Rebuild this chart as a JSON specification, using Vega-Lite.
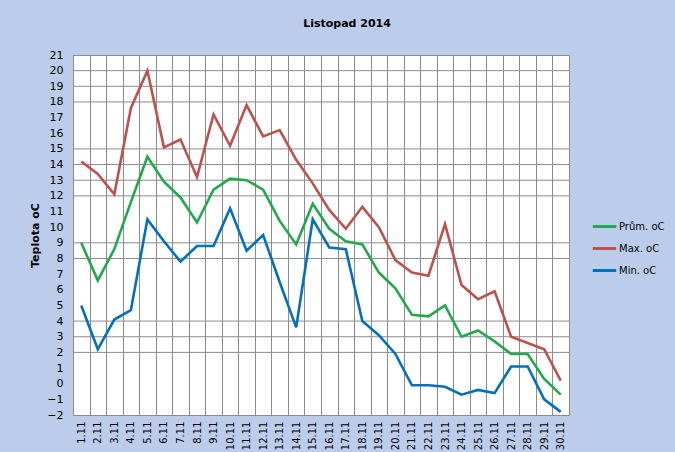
{
  "$schema": "https://vega.github.io/schema/vega-lite/v6.json",
  "width": 496,
  "height": 360,
  "autosize": {"type": "none"},
  "padding": {"left": 73, "top": 55, "right": 106, "bottom": 37},
  "background": "#bccdec",
  "title": {"text": "Listopad 2014", "font": "DejaVu Sans", "fontSize": 11, "fontWeight": "bold", "color": "#000000", "anchor": "middle", "offset": 20, "dx": 26},
  "datasets": {
    "grid": [{"y": 20}, {"y": 19}, {"y": 18}, {"y": 15}, {"y": 14}, {"y": 13}, {"y": 12}, {"y": 9}, {"y": 8}, {"y": 4}, {"y": 3}, {"y": 2}],
    "temps": [
      {"den": "1.11", "serie": "Prům. oC", "t": 9.0}, {"den": "1.11", "serie": "Max. oC", "t": 14.2}, {"den": "1.11", "serie": "Min. oC", "t": 5.0},
      {"den": "2.11", "serie": "Prům. oC", "t": 6.6}, {"den": "2.11", "serie": "Max. oC", "t": 13.4}, {"den": "2.11", "serie": "Min. oC", "t": 2.2},
      {"den": "3.11", "serie": "Prům. oC", "t": 8.6}, {"den": "3.11", "serie": "Max. oC", "t": 12.1}, {"den": "3.11", "serie": "Min. oC", "t": 4.1},
      {"den": "4.11", "serie": "Prům. oC", "t": 11.6}, {"den": "4.11", "serie": "Max. oC", "t": 17.6}, {"den": "4.11", "serie": "Min. oC", "t": 4.7},
      {"den": "5.11", "serie": "Prům. oC", "t": 14.5}, {"den": "5.11", "serie": "Max. oC", "t": 20.0}, {"den": "5.11", "serie": "Min. oC", "t": 10.5},
      {"den": "6.11", "serie": "Prům. oC", "t": 12.9}, {"den": "6.11", "serie": "Max. oC", "t": 15.1}, {"den": "6.11", "serie": "Min. oC", "t": 9.1},
      {"den": "7.11", "serie": "Prům. oC", "t": 11.9}, {"den": "7.11", "serie": "Max. oC", "t": 15.6}, {"den": "7.11", "serie": "Min. oC", "t": 7.8},
      {"den": "8.11", "serie": "Prům. oC", "t": 10.3}, {"den": "8.11", "serie": "Max. oC", "t": 13.2}, {"den": "8.11", "serie": "Min. oC", "t": 8.8},
      {"den": "9.11", "serie": "Prům. oC", "t": 12.4}, {"den": "9.11", "serie": "Max. oC", "t": 17.2}, {"den": "9.11", "serie": "Min. oC", "t": 8.8},
      {"den": "10.11", "serie": "Prům. oC", "t": 13.1}, {"den": "10.11", "serie": "Max. oC", "t": 15.2}, {"den": "10.11", "serie": "Min. oC", "t": 11.2},
      {"den": "11.11", "serie": "Prům. oC", "t": 13.0}, {"den": "11.11", "serie": "Max. oC", "t": 17.8}, {"den": "11.11", "serie": "Min. oC", "t": 8.5},
      {"den": "12.11", "serie": "Prům. oC", "t": 12.4}, {"den": "12.11", "serie": "Max. oC", "t": 15.8}, {"den": "12.11", "serie": "Min. oC", "t": 9.5},
      {"den": "13.11", "serie": "Prům. oC", "t": 10.4}, {"den": "13.11", "serie": "Max. oC", "t": 16.2}, {"den": "13.11", "serie": "Min. oC", "t": 6.5},
      {"den": "14.11", "serie": "Prům. oC", "t": 8.9}, {"den": "14.11", "serie": "Max. oC", "t": 14.3}, {"den": "14.11", "serie": "Min. oC", "t": 3.6},
      {"den": "15.11", "serie": "Prům. oC", "t": 11.5}, {"den": "15.11", "serie": "Max. oC", "t": 12.8}, {"den": "15.11", "serie": "Min. oC", "t": 10.5},
      {"den": "16.11", "serie": "Prům. oC", "t": 9.9}, {"den": "16.11", "serie": "Max. oC", "t": 11.1}, {"den": "16.11", "serie": "Min. oC", "t": 8.7},
      {"den": "17.11", "serie": "Prům. oC", "t": 9.1}, {"den": "17.11", "serie": "Max. oC", "t": 9.9}, {"den": "17.11", "serie": "Min. oC", "t": 8.6},
      {"den": "18.11", "serie": "Prům. oC", "t": 8.9}, {"den": "18.11", "serie": "Max. oC", "t": 11.3}, {"den": "18.11", "serie": "Min. oC", "t": 4.0},
      {"den": "19.11", "serie": "Prům. oC", "t": 7.1}, {"den": "19.11", "serie": "Max. oC", "t": 10.0}, {"den": "19.11", "serie": "Min. oC", "t": 3.1},
      {"den": "20.11", "serie": "Prům. oC", "t": 6.1}, {"den": "20.11", "serie": "Max. oC", "t": 7.9}, {"den": "20.11", "serie": "Min. oC", "t": 1.9},
      {"den": "21.11", "serie": "Prům. oC", "t": 4.4}, {"den": "21.11", "serie": "Max. oC", "t": 7.1}, {"den": "21.11", "serie": "Min. oC", "t": -0.1},
      {"den": "22.11", "serie": "Prům. oC", "t": 4.3}, {"den": "22.11", "serie": "Max. oC", "t": 6.9}, {"den": "22.11", "serie": "Min. oC", "t": -0.1},
      {"den": "23.11", "serie": "Prům. oC", "t": 5.0}, {"den": "23.11", "serie": "Max. oC", "t": 10.2}, {"den": "23.11", "serie": "Min. oC", "t": -0.2},
      {"den": "24.11", "serie": "Prům. oC", "t": 3.0}, {"den": "24.11", "serie": "Max. oC", "t": 6.3}, {"den": "24.11", "serie": "Min. oC", "t": -0.7},
      {"den": "25.11", "serie": "Prům. oC", "t": 3.4}, {"den": "25.11", "serie": "Max. oC", "t": 5.4}, {"den": "25.11", "serie": "Min. oC", "t": -0.4},
      {"den": "26.11", "serie": "Prům. oC", "t": 2.7}, {"den": "26.11", "serie": "Max. oC", "t": 5.9}, {"den": "26.11", "serie": "Min. oC", "t": -0.6},
      {"den": "27.11", "serie": "Prům. oC", "t": 1.9}, {"den": "27.11", "serie": "Max. oC", "t": 3.0}, {"den": "27.11", "serie": "Min. oC", "t": 1.1},
      {"den": "28.11", "serie": "Prům. oC", "t": 1.9}, {"den": "28.11", "serie": "Max. oC", "t": 2.6}, {"den": "28.11", "serie": "Min. oC", "t": 1.1},
      {"den": "29.11", "serie": "Prům. oC", "t": 0.3}, {"den": "29.11", "serie": "Max. oC", "t": 2.2}, {"den": "29.11", "serie": "Min. oC", "t": -1.0},
      {"den": "30.11", "serie": "Prům. oC", "t": -0.7}, {"den": "30.11", "serie": "Max. oC", "t": 0.2}, {"den": "30.11", "serie": "Min. oC", "t": -1.8}
    ]
  },
  "layer": [
    {
      "data": {"name": "grid"},
      "mark": {"type": "rule", "color": "#8c8c8c", "strokeWidth": 1},
      "encoding": {
        "y": {"field": "y", "type": "quantitative", "title": "Teplota oC", "scale": {"domain": [-2, 21], "nice": false, "zero": false},
          "axis": {"values": [-2, -1, 0, 1, 2, 3, 4, 5, 6, 7, 8, 9, 10, 11, 12, 13, 14, 15, 16, 17, 18, 19, 20, 21], "labelOverlap": false, "grid": false, "ticks": false, "domain": false}}
      }
    },
    {
      "data": {"name": "temps"},
      "mark": {"type": "line", "strokeWidth": 2.6},
      "encoding": {
        "x": {
          "field": "den", "type": "ordinal", "sort": null, "title": null,
          "scale": {"type": "band", "paddingInner": 0, "paddingOuter": 0},
          "axis": {"labelAngle": 270, "tickBand": "extent", "grid": true, "gridColor": "#8c8c8c", "gridOpacity": 1, "ticks": false, "domain": false, "labelPadding": 6, "labelFontSize": 10, "labelColor": "#000000", "labelFont": "DejaVu Sans", "labelOverlap": false}
        },
        "y": {"field": "t", "type": "quantitative", "title": "Teplota oC", "scale": {"domain": [-2, 21], "nice": false, "zero": false},
          "axis": {"values": [-2, -1, 0, 1, 2, 3, 4, 5, 6, 7, 8, 9, 10, 11, 12, 13, 14, 15, 16, 17, 18, 19, 20, 21], "labelOverlap": false, "grid": false, "ticks": false, "domain": false}},
        "color": {
          "field": "serie", "type": "nominal", "title": null,
          "scale": {"domain": ["Prům. oC", "Max. oC", "Min. oC"], "range": ["#1faa4b", "#c0504d", "#0070c0"]},
          "sort": ["Prům. oC", "Max. oC", "Min. oC"],
          "legend": {"orient": "none", "legendX": 518, "legendY": 158, "symbolType": "stroke", "symbolSize": 550, "symbolStrokeWidth": 3, "labelFontSize": 10, "labelColor": "#000000", "labelFont": "DejaVu Sans", "rowPadding": 2, "labelOffset": 1}
        }
      }
    }
  ],
  "config": {
    "view": {"stroke": "#8c8c8c", "fill": "#ffffff"},
    "axisY": {"labelPadding": 10, "labelFontSize": 11, "labelColor": "#000000", "labelFont": "DejaVu Sans", "titleFont": "DejaVu Sans", "titleFontSize": 11, "titleFontWeight": "bold", "titleColor": "#000000", "titlePadding": 6}
  }
}
